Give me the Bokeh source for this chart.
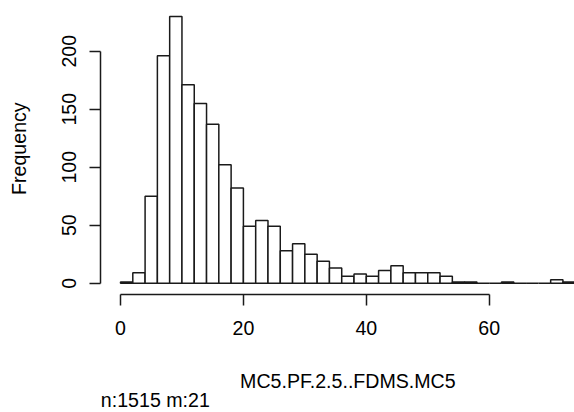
import math
from bokeh.plotting import figure
from bokeh.models import FixedTicker, Label, Range1d
from bokeh.embed import file_html
from bokeh.resources import INLINE

# ---- data ----
bin_edges = list(range(0, 76, 2))          # 0, 2, ..., 74
counts = [1, 9, 75, 196, 230, 171, 155, 137, 102, 82,
          49, 54, 49, 28, 34, 25, 19, 13, 6, 8,
          6, 11, 15, 9, 9, 9, 6, 1, 1, 0,
          0, 1, 0, 0, 0, 3, 1]
x_ticks = [0, 20, 40, 60]
y_ticks = [0, 50, 100, 150, 200]
x_label = "MC5.PF.2.5..FDMS.MC5"
y_label = "Frequency"
note = "n:1515 m:21"

FONT = "Liberation Sans"
FSIZE = "19.6px"
INK = "#1a1a1a"

# frame spans the whole canvas; R-style axes sit at the plot-region edges
p = figure(width=574, height=412,
           x_range=Range1d(-19.53, 73.88), y_range=Range1d(-111.47, 243.7),
           output_backend="svg", toolbar_location=None,
           min_border_left=0, min_border_right=0,
           min_border_top=0, min_border_bottom=0)

p.quad(left=bin_edges[:-1], right=bin_edges[1:], bottom=0, top=counts,
       fill_color="white", line_color=INK, line_width=1.5)

p.outline_line_color = None
p.xgrid.visible = False
p.ygrid.visible = False
p.background_fill_color = "white"
p.border_fill_color = "white"

for ax, ticks in ((p.xaxis[0], x_ticks), (p.yaxis[0], y_ticks)):
    ax.ticker = FixedTicker(ticks=ticks)
    ax.bounds = (ticks[0], ticks[-1])
    ax.minor_tick_line_color = None
    ax.major_tick_in = 0
    ax.major_tick_out = 11
    ax.axis_line_color = INK
    ax.axis_line_width = 1.5
    ax.major_tick_line_color = INK
    ax.major_tick_line_width = 1.5
    ax.major_label_text_font = FONT
    ax.major_label_text_font_size = FSIZE
    ax.major_label_text_color = "black"

p.xaxis.fixed_location = -9.4
p.yaxis.fixed_location = -3.2
p.xaxis.major_label_standoff = 16
p.yaxis.major_label_standoff = 14
p.yaxis.major_label_orientation = "vertical"

txt = dict(text_font=FONT, text_font_size=FSIZE, text_color="black",
           text_baseline="middle")
p.add_layout(Label(x=(bin_edges[0] + bin_edges[-1]) / 2, y=-84.3,
                   text=x_label, text_align="center", **txt))
p.add_layout(Label(x=-3.2, y=-101.0, text=note, text_align="left", **txt))
p.add_layout(Label(x=-16.6, y=116, text=y_label, text_align="center",
                   angle=math.pi / 2, **txt))

open("out.html", "w").write(file_html(p, INLINE))
